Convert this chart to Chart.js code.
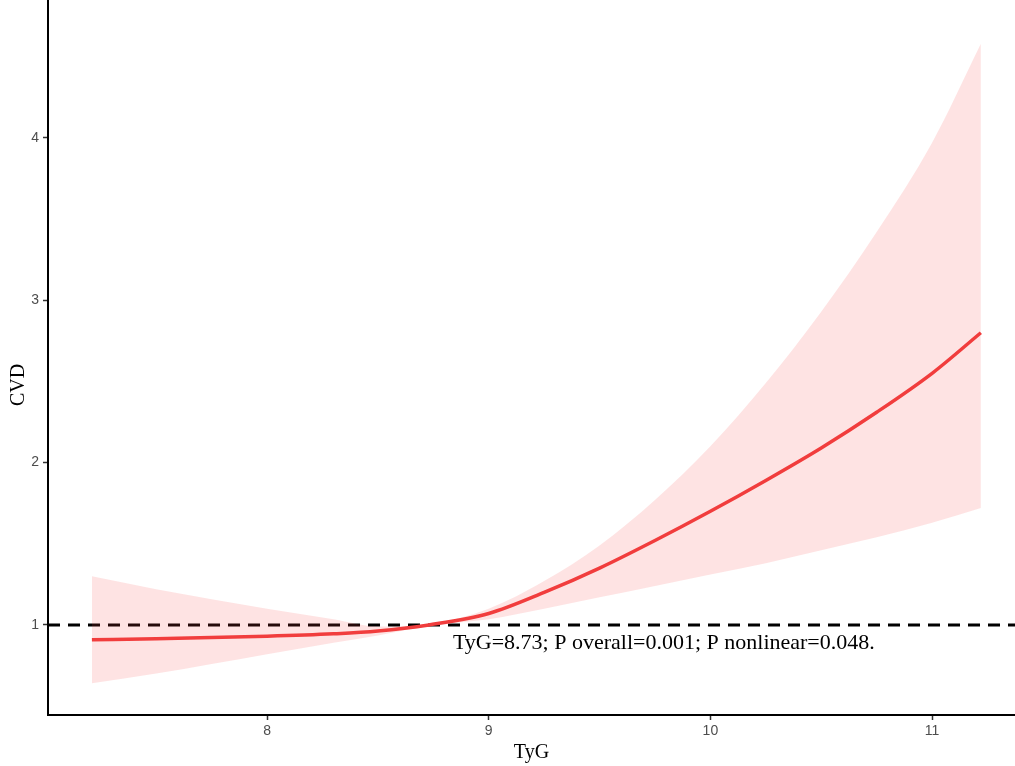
<!DOCTYPE html>
<html>
<head>
<meta charset="utf-8">
<script src="https://cdn.jsdelivr.net/npm/chart.js@4"></script>
<style>
  html, body { margin: 0; padding: 0; background: #fff; }
  #wrap { width: 1015px; height: 766px; }
</style>
</head>
<body>
<div id="wrap"><canvas id="rcs" width="1015" height="766"></canvas></div>
<script>
// TyG の値
const tyg = [7.21, 7.5, 8.0, 8.3, 8.5, 8.73, 9.0, 9.25, 9.5, 9.75, 10.0, 10.25, 10.5, 10.75, 11.0, 11.22];
// 推定値と95%信頼区間
const fit   = [0.908, 0.915, 0.93, 0.945, 0.962, 1.0, 1.07, 1.20, 1.35, 1.52, 1.70, 1.89, 2.09, 2.31, 2.55, 2.80];
const upper = [1.30, 1.22, 1.10, 1.035, 0.99, 1.005, 1.10, 1.27, 1.49, 1.77, 2.10, 2.49, 2.93, 3.42, 3.97, 4.58];
const lower = [0.64, 0.70, 0.82, 0.89, 0.935, 0.995, 1.035, 1.10, 1.17, 1.24, 1.31, 1.38, 1.46, 1.54, 1.63, 1.72];
const xTicks = [8, 9, 10, 11];
const yTicks = [1, 2, 3, 4];
const refY = 1;
const note = 'TyG=8.73; P overall=0.001; P nonlinear=0.048.';

const xMin = 7.012, xMax = 11.374;
const yMin = 0.445, yMax = 4.85;

const pts = ys => tyg.map((x, i) => ({ x: x, y: ys[i] }));

// 軸タイトルと注記
const textPlugin = {
    id: 'texts',
    afterDraw(chart) {
        const ctx = chart.ctx;
        const a = chart.chartArea;
        const xs = chart.scales.x, ys = chart.scales.y;
        ctx.save();
        ctx.fillStyle = '#000';
        ctx.font = '20px "Liberation Serif", "Times New Roman", serif';
        ctx.textAlign = 'center';
        ctx.textBaseline = 'middle';
        ctx.fillText('TyG', (a.left + a.right) / 2, 753);
        ctx.save();
        ctx.translate(19, 385);
        ctx.rotate(-Math.PI / 2);
        ctx.fillText('CVD', 0, 0);
        ctx.restore();
        ctx.font = '22px "Liberation Serif", "Times New Roman", serif';
        ctx.fillText(note, xs.getPixelForValue(9.79), ys.getPixelForValue(0.885));
        ctx.restore();
    }
};

new Chart(document.getElementById('rcs'), {
    type: 'line',
    data: {
        datasets: [
            {
                label: 'upper',
                data: pts(upper),
                borderWidth: 0,
                borderColor: 'rgba(0,0,0,0)',
                pointRadius: 0,
                backgroundColor: 'rgba(248,70,70,0.15)',
                fill: '+1',
                cubicInterpolationMode: 'monotone'
            },
            {
                label: 'lower',
                data: pts(lower),
                borderWidth: 0,
                borderColor: 'rgba(0,0,0,0)',
                pointRadius: 0,
                fill: false,
                cubicInterpolationMode: 'monotone'
            },
            {
                label: 'fit',
                data: pts(fit),
                borderColor: '#f03c3c',
                borderWidth: 3.5,
                pointRadius: 0,
                fill: false,
                cubicInterpolationMode: 'monotone'
            },
            {
                label: 'ref',
                data: [{ x: xMin, y: refY }, { x: xMax, y: refY }],
                borderColor: '#000',
                borderWidth: 3,
                borderDash: [12, 8],
                pointRadius: 0,
                fill: false
            }
        ]
    },
    options: {
        responsive: false,
        animation: false,
        layout: { padding: 0 },
        plugins: {
            legend: { display: false },
            tooltip: { enabled: false }
        },
        scales: {
            x: {
                type: 'linear',
                min: xMin,
                max: xMax,
                afterBuildTicks: s => { s.ticks = xTicks.map(v => ({ value: v })); },
                afterFit: s => { s.height = 51; s.paddingLeft = 0; s.paddingRight = 0; },
                border: { display: true, color: '#000', width: 2 },
                grid: { drawOnChartArea: false, tickLength: 5, tickColor: '#333', tickWidth: 1.5 },
                ticks: {
                    color: '#4d4d4d',
                    padding: 3,
                    font: { family: '"Liberation Sans", Arial, sans-serif', size: 14 }
                }
            },
            y: {
                type: 'linear',
                min: yMin,
                max: yMax,
                afterBuildTicks: s => { s.ticks = yTicks.map(v => ({ value: v })); },
                afterFit: s => { s.width = 48; s.paddingTop = 0; s.paddingBottom = 0; },
                border: { display: true, color: '#000', width: 2 },
                grid: { drawOnChartArea: false, tickLength: 5, tickColor: '#333', tickWidth: 1.5 },
                ticks: {
                    color: '#4d4d4d',
                    padding: 4,
                    font: { family: '"Liberation Sans", Arial, sans-serif', size: 14 }
                }
            }
        }
    },
    plugins: [textPlugin]
});
</script>
</body>
</html>
